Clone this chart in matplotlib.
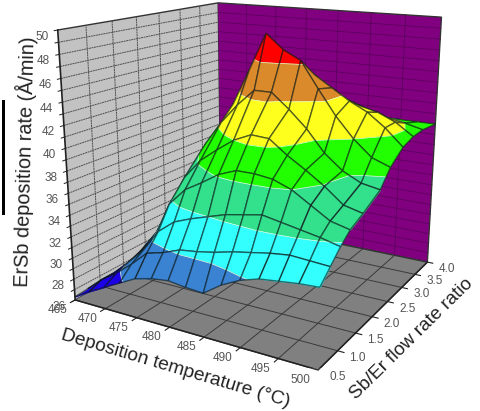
import numpy as np
import matplotlib
matplotlib.use('Agg')
import matplotlib.pyplot as plt
from matplotlib.patches import Rectangle
from mpl_toolkits.mplot3d import proj3d
from mpl_toolkits.mplot3d.art3d import Poly3DCollection, Line3DCollection

plt.rcParams['font.family'] = ['Liberation Sans', 'DejaVu Sans']

# temperature and ratio grid of the surface
temps = [465, 467.5, 470, 472.5, 475, 477.5, 480, 482.5, 485, 487.5, 490, 492.5, 495, 497.5, 500]
ratios = [0.5, 0.75, 1.0, 1.25, 1.6, 2.1, 2.4, 2.8, 3.15, 3.5, 4.0]

# deposition rate, one row per ratio
rate = [
    [26.3, 27.2, 28.0, 28.8, 29.6, 30.0, 30.2, 30.0, 29.9, 31.0, 31.8, 32.3, 32.5, 32.7, 32.8],
    [26.4, 27.7, 28.7, 29.9, 31.3, 31.7, 32.3, 32.5, 32.8, 33.2, 33.5, 33.8, 34.0, 33.9, 33.8],
    [26.5, 27.7, 29.1, 30.6, 32.7, 33.9, 34.5, 35.0, 35.5, 35.8, 36.1, 35.8, 35.5, 35.2, 34.8],
    [26.4, 27.8, 29.5, 31.3, 34.7, 36.3, 37.2, 38.2, 38.8, 38.8, 38.6, 38.0, 37.0, 36.0, 35.6],
    [26.5, 28.5, 30.5, 33.3, 36.5, 38.3, 39.5, 40.6, 41.3, 41.2, 40.0, 39.0, 37.9, 36.6, 36.2],
    [26.4, 28.0, 30.0, 35.0, 38.8, 41.0, 42.8, 44.3, 44.3, 43.0, 41.5, 39.6, 38.3, 37.5, 37.2],
    [27.0, 27.5, 30.0, 34.5, 38.9, 42.3, 45.6, 49.0, 47.7, 46.9, 44.6, 42.4, 40.6, 39.2, 38.6],
    [26.8, 27.0, 29.0, 33.3, 39.3, 43.0, 46.4, 46.8, 45.8, 45.2, 44.2, 43.2, 42.4, 41.2, 39.7],
    [26.8, 27.3, 28.6, 31.7, 36.2, 39.9, 43.8, 44.9, 44.8, 43.7, 42.9, 42.3, 41.9, 41.2, 40.1],
    [26.8, 27.0, 28.0, 29.9, 34.0, 36.8, 40.2, 41.9, 42.5, 42.3, 41.4, 41.1, 40.9, 40.6, 40.2],
    [27.0, 27.2, 28.0, 28.9, 31.9, 34.3, 36.6, 38.4, 39.1, 39.3, 39.5, 39.7, 40.0, 40.0, 40.0],
]

levels = [20, 29, 32, 35, 38, 40.6, 43.6, 46.6, 60]
band_colors = ['#1c00e6', '#3a82d2', '#33ffff', '#33e08c', '#22ff00', '#ffff1e', '#da8a2a', '#ff0000']

x_ticks = [465, 470, 475, 480, 485, 490, 495, 500]
y_ticks = [0.5, 1.0, 1.5, 2.0, 2.5, 3.0, 3.5, 4.0]
z_ticks = [26, 28, 30, 32, 34, 36, 38, 40, 42, 44, 46, 48, 50]
z_lines = list(range(26, 51))


def clip(poly, lev, above):
    out = []
    n = len(poly)
    for k in range(n):
        a = poly[k]
        b = poly[(k + 1) % n]
        ina = a[2] >= lev if above else a[2] <= lev
        inb = b[2] >= lev if above else b[2] <= lev
        if ina:
            out.append(a)
        if ina != inb:
            t = (lev - a[2]) / (b[2] - a[2])
            out.append([a[0] + t * (b[0] - a[0]), a[1] + t * (b[1] - a[1]), lev])
    return out


fig = plt.figure(figsize=(4.8, 4.11), dpi=100)
ax = fig.add_axes([0.0304, 0.1042, 1, 1], projection='3d', computed_zorder=False)
ax.view_init(elev=16.1018, azim=-59.738)
ax.set_proj_type('persp', focal_length=0.3907)
ax.set_box_aspect((1.0059, 0.9997, 1), zoom=1.0937)
ax.set_xlim(465, 500)
ax.set_ylim(0.5, 4)
ax.set_zlim(26, 50)
ax.grid(False)
ax.set_xticks([])
ax.set_yticks([])
ax.set_zticks([])
ax.apply_aspect()
M = ax.get_proj()


def tick_text(x, y, z, s, dx, dy):
    # label next to a projected tick, offset in pixels
    xp, yp, _ = proj3d.proj_transform(x, y, z, M)
    px, py = ax.transData.transform((xp, yp))
    fig.text((px + dx) / 480, (py - dy) / 411, s, fontsize=8.5, color='#555555', ha='center', va='center')


ax.xaxis.set_pane_color('#c2c2c2')
ax.yaxis.set_pane_color('#800080')
ax.zaxis.set_pane_color('#808080')
for axis in (ax.xaxis, ax.yaxis, ax.zaxis):
    axis.pane.set_edgecolor('#333333')
    axis.line.set_color('none')

# grid lines of the walls and the floor
for t in x_ticks[1:-1]:
    ax.plot([t, t], [0.5, 4], [26, 26], color='#3a3a3a', lw=0.7, zorder=1)
    ax.plot([t, t], [4, 4], [26, 50], color='#5e005e', lw=0.6, zorder=1)
for r in y_ticks[1:-1]:
    ax.plot([465, 500], [r, r], [26, 26], color='#3a3a3a', lw=0.7, zorder=1)
    ax.plot([465, 465], [r, r], [26, 50], color='#505050', lw=0.7, ls=(0, (2, 0.6)), zorder=1)
for v in z_lines[1:-1]:
    ax.plot([465, 465], [0.5, 4], [v, v], color='#505050', lw=0.7, ls=(0, (2, 0.6)), zorder=1)
    ax.plot([465, 500], [4, 4], [v, v], color='#5e005e', lw=0.6, zorder=1)

# box edges, tick marks and tick labels
ax.plot([465, 465], [0.5, 0.5], [26, 50], color='#222222', lw=1.2, zorder=2)
ax.plot([465, 500], [0.5, 0.5], [26, 26], color='#222222', lw=1.0, zorder=2)
ax.plot([500, 500], [0.5, 4], [26, 26], color='#222222', lw=1.0, zorder=2)
for t in x_ticks:
    ax.plot([t, t], [0.5, 0.41], [26, 26], color='#222222', lw=0.8, zorder=2)
    tick_text(t, 0.5, 26, str(t), -18, 10)
for r in y_ticks:
    ax.plot([500, 500.8], [r, r], [26, 26], color='#222222', lw=0.8, zorder=2)
    tick_text(500, r, 26, '%.1f' % r, 20, 7)
for v in z_lines:
    ax.plot([465, 465], [0.5, 0.44], [v, v], color='#222222', lw=0.7, zorder=2)
for v in z_ticks:
    tick_text(465, 0.5, v, str(v), -16, 7)

# surface, one cell at a time from the back to the front
cells = []
for j in range(len(ratios) - 1):
    for i in range(len(temps) - 1):
        xm = (temps[i] + temps[i + 1]) / 2
        ym = (ratios[j] + ratios[j + 1]) / 2
        zm = (rate[j][i] + rate[j][i + 1] + rate[j + 1][i] + rate[j + 1][i + 1]) / 4
        depth = proj3d.proj_transform(xm, ym, zm, M)[2]
        cells.append((depth, i, j))
cells.sort(reverse=True)

order = 10
for depth, i, j in cells:
    quad = [[temps[i], ratios[j], rate[j][i]],
            [temps[i + 1], ratios[j], rate[j][i + 1]],
            [temps[i + 1], ratios[j + 1], rate[j + 1][i + 1]],
            [temps[i], ratios[j + 1], rate[j + 1][i]]]
    polys = []
    colors = []
    pale = []
    for b in range(len(band_colors)):
        part = clip(clip(quad, levels[b], True), levels[b + 1], False)
        if len(part) < 3:
            continue
        polys.append(part)
        colors.append(band_colors[b])
        for k in range(len(part)):
            p = part[k]
            q = part[(k + 1) % len(part)]
            if b > 0 and p[2] == levels[b] and q[2] == levels[b]:
                pale.append([p, q])
    ax.add_collection3d(Poly3DCollection(polys, facecolors=colors, edgecolors=colors,
                                         linewidths=0.3, zorder=order))
    if pale:
        ax.add_collection3d(Line3DCollection(pale, colors='#e8ffd8', linewidths=0.5, zorder=order + 1))
    edges = [[quad[k], quad[(k + 1) % 4]] for k in range(4)]
    ax.add_collection3d(Line3DCollection(edges, colors=[(0.05, 0.1, 0.1, 0.62)], linewidths=1.0, zorder=order + 2))
    order += 3

fig.text(0.051, 0.608, 'ErSb deposition rate (Å/min)', rotation=88.5, fontsize=14.3, color='#222222',
         ha='center', va='center', rotation_mode='anchor')
fig.text(0.365, 0.104, 'Deposition temperature (°C)', rotation=-16.5, fontsize=13.8, color='#222222',
         ha='center', va='center', rotation_mode='anchor')
fig.text(0.858, 0.175, 'Sb/Er flow rate ratio', rotation=44.5, fontsize=13.6, color='#222222',
         ha='center', va='center', rotation_mode='anchor')
fig.add_artist(Rectangle((2 / 480, 1 - 215 / 411), 3 / 480, 115 / 411, transform=fig.transFigure,
                         facecolor='black', edgecolor='none'))

fig.savefig('out.png')
